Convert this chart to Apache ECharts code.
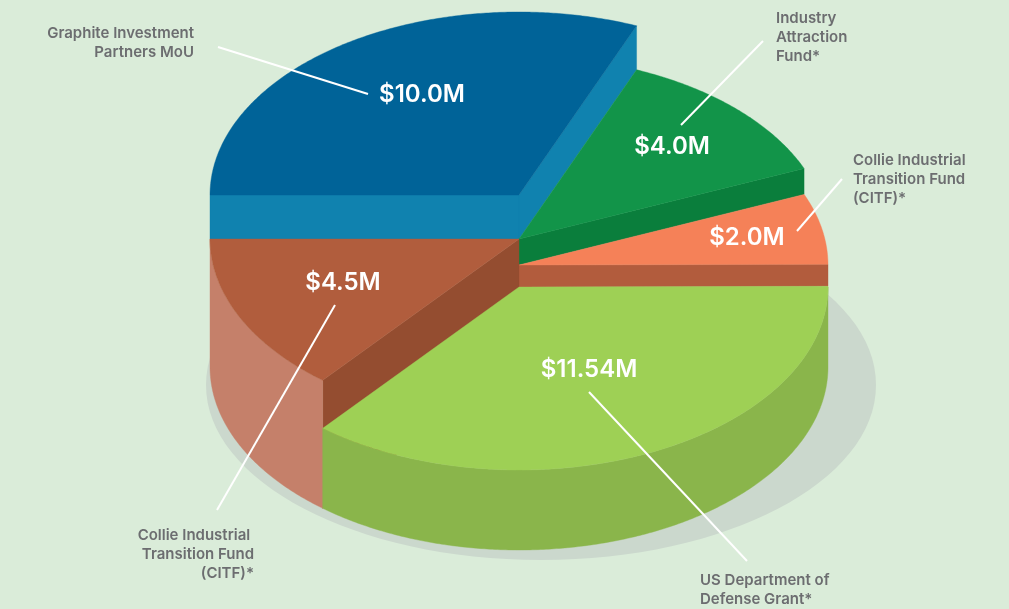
<!DOCTYPE html>
<html>
<head>
<meta charset="utf-8">
<style>html,body{margin:0;padding:0;background:#daecd9}#c{width:1009px;height:609px}</style>
<script src="https://cdn.jsdelivr.net/npm/echarts@6/dist/echarts.min.js"></script>
</head>
<body>
<div id="c"></div>
<script>
// Data (clockwise from the 9 o'clock edge)
const categories = ['Graphite Investment\nPartners MoU', 'Industry\nAttraction\nFund*', 'Collie Industrial\nTransition Fund\n(CITF)*', 'US Department of\nDefense Grant*', 'Collie Industrial \nTransition Fund\n(CITF)*'];
const values = [10.0, 4.0, 2.0, 11.54, 4.5];
const valueLabels = ['$10.0M', '$4.0M', '$2.0M', '$11.54M', '$4.5M'];

// Styles per slice
const topColors = ['#006398', '#129449', '#f58158', '#9ed055', '#b15d3d'];
const sideColors = ['#004f7d', '#0a7e3c', '#b25c3d', '#8ab54b', '#c5806a'];
const cutColors = ['#1082af', '#0a7e3c', '#b25c3d', '#8ab54b', '#944d30'];
const apexY = [195, 239, 265, 287, 239];
const floorY = [239, 265, 287, 367, 367];
const paintOrder = [1, 2, 3, 5, 4];

// Layout
const CX = 519, RX = 309, RY = 183, START = 180;
const nameGrey = '#6c6d70';
const FONT = 'Inter, "Noto Sans", sans-serif';
const nameAnchors = [
  {x: 194, y: 43, align: 'right'}, {x: 776, y: 37, align: 'left'}, {x: 853, y: 179, align: 'left'},
  {x: 700, y: 590, align: 'left'}, {x: 254, y: 554, align: 'right'}
];
const valueAnchors = [[422, 95], [672, 147], [747, 238], [589, 370], [343, 283]];
const leaders = [
  [[218, 47], [368, 94]], [[763, 41], [681, 125]], [[842, 179], [797, 231]],
  [[747, 561], [589, 392]], [[217, 510], [335, 305]]
];

const total = values.reduce((a, b) => a + b, 0);
const toAngle = v => echarts.number.linearMap(v, [0, total], [START, START - 360]);
const rad = d => d * Math.PI / 180;
const onRim = (deg, y0) => [CX + RX * Math.cos(rad(deg)), y0 - RY * Math.sin(rad(deg))];
const arc = (a, b, y0) => {
  const n = Math.max(2, Math.ceil(Math.abs(a - b) * 2));
  const pts = [];
  for (let i = 0; i <= n; i++) pts.push(onRim(a + (b - a) * i / n, y0));
  return pts;
};

function renderSlice(params, api) {
  const i = params.dataIndex;
  let before = 0;
  for (let k = 0; k < i; k++) before += values[k];
  const a1 = toAngle(before), a2 = toAngle(before + api.value(0));
  const y0 = apexY[i], y1 = floorY[i], z2 = paintOrder[i];
  const poly = (points, fill) => ({
    type: 'polygon', z2, shape: {points},
    style: {fill, stroke: fill, lineWidth: 0.4}
  });
  const children = [];
  // cut faces that look toward the viewer
  [[a1, Math.cos(rad(a1)) < -1e-6], [a2, Math.cos(rad(a2)) > 1e-6]].forEach(([a, show]) => {
    if (!show) return;
    const p = onRim(a, y0), q = onRim(a, y1);
    children.push(poly([[CX, y0], p, q, [CX, y1]], cutColors[i]));
  });
  // outer wall: the part of the rim in the lower half
  const hi = Math.min(a1, 0), lo = Math.max(a2, -180);
  if (hi > lo) {
    children.push(poly(arc(hi, lo, y0).concat(arc(lo, hi, y1)), sideColors[i]));
  }
  // top face
  children.push(poly([[CX, y0]].concat(arc(a1, a2, y0)), topColors[i]));
  return {type: 'group', children};
}

const graphics = [
  {type: 'ellipse', z: 0, silent: true, shape: {cx: 541, cy: 385, rx: 335, ry: 175}, style: {fill: '#cbd8cd'}}
];
leaders.forEach(l => graphics.push({
  type: 'line', z: 10, silent: true,
  shape: {x1: l[0][0], y1: l[0][1], x2: l[1][0], y2: l[1][1]},
  style: {stroke: '#ffffff', lineWidth: 2}
}));
categories.forEach((name, i) => graphics.push({
  type: 'text', z: 11, silent: true,
  style: {
    text: name, x: nameAnchors[i].x, y: nameAnchors[i].y,
    align: nameAnchors[i].align, verticalAlign: 'middle',
    fill: nameGrey, font: '600 15px ' + FONT, lineHeight: 19
  }
}));
valueLabels.forEach((t, i) => graphics.push({
  type: 'text', z: 11, silent: true,
  style: {
    text: t, x: valueAnchors[i][0], y: valueAnchors[i][1],
    align: 'center', verticalAlign: 'middle',
    fill: '#ffffff', font: '600 24px ' + FONT
  }
}));

const chart = echarts.init(document.getElementById('c'), null, {renderer: 'canvas'});
chart.setOption({
  backgroundColor: '#daecd9',
  animation: false,
  graphic: graphics,
  series: [{
    type: 'custom',
    coordinateSystem: 'none',
    silent: true,
    clip: false,
    renderItem: renderSlice,
    data: values.map((v, i) => ({name: categories[i], value: [v]}))
  }]
});
</script>
</body>
</html>
